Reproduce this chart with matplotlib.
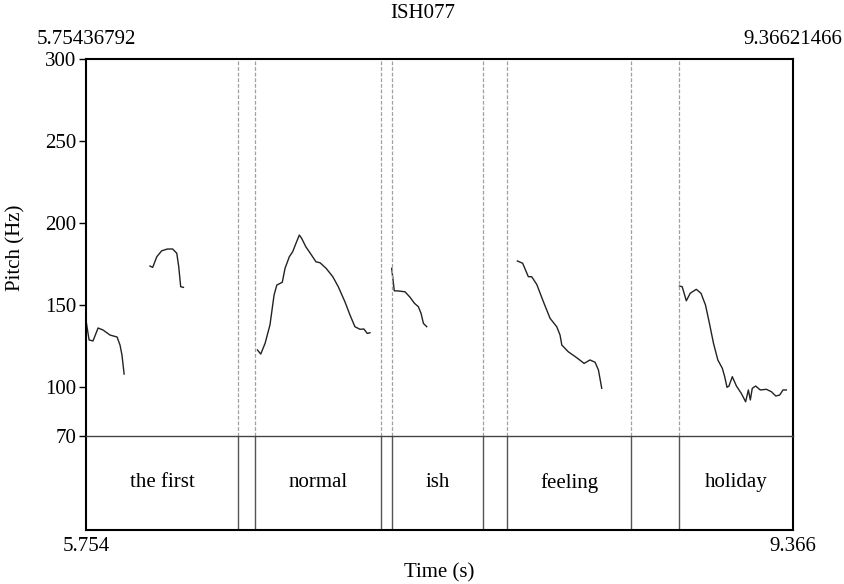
import matplotlib.pyplot as plt

plt.rcParams['font.family'] = ['Liberation Serif', 'DejaVu Serif']

title = "ISH077"
t_start, t_end = 5.75436792, 9.36621466
f_min, f_max = 70, 300
pitch_ticks = [70, 100, 150, 200, 250, 300]

# word tier: interval boundaries and their labels (empty = pause)
boundaries = [6.531, 6.618, 7.261, 7.318, 7.782, 7.905, 8.539, 8.784]
words = ["the first", "", "normal", "", "ish", "", "feeling", "", "holiday"]

# voiced stretches of the pitch track (time in s, F0 in Hz)
seg1_t = [5.754, 5.770, 5.790, 5.816, 5.841, 5.877, 5.913, 5.928, 5.938, 5.949]
seg1_f = [140.8, 128.6, 128.0, 135.9, 134.7, 131.6, 130.4, 125.5, 119.4, 107.8]

seg2_t = [6.081, 6.095, 6.116, 6.141, 6.170, 6.197, 6.218, 6.228, 6.238, 6.252]
seg2_f = [173.7, 172.9, 179.4, 183.0, 184.1, 184.1, 181.5, 173.3, 161.1, 160.7]

seg3_t = [6.630, 6.647, 6.669, 6.694, 6.715, 6.729, 6.757, 6.771, 6.793, 6.810,
          6.827, 6.844, 6.856, 6.877, 6.895, 6.929, 6.950, 6.981, 7.015, 7.043,
          7.077, 7.103, 7.128, 7.154, 7.174, 7.191, 7.205]
seg3_f = [122.5, 120.0, 126.5, 137.7, 156.0, 162.1, 163.8, 172.3, 179.4, 182.4,
          187.6, 192.6, 190.6, 185.5, 182.4, 176.3, 175.7, 172.3, 167.2, 161.1,
          151.9, 143.8, 136.7, 135.1, 135.3, 132.6, 133.0]

seg4_t = [7.316, 7.329, 7.350, 7.384, 7.410, 7.432, 7.452, 7.466, 7.478, 7.495]
seg4_f = [172.3, 158.6, 158.5, 158.0, 154.6, 151.0, 148.9, 144.8, 138.7, 136.7]

seg5_t = [7.958, 7.985, 8.014, 8.031, 8.057, 8.091, 8.125, 8.159, 8.176, 8.185,
          8.218, 8.261, 8.299, 8.329, 8.355, 8.372, 8.389]
seg5_f = [176.8, 175.4, 167.2, 167.2, 162.5, 151.9, 141.8, 136.7, 131.6, 125.5,
          121.4, 117.8, 114.3, 116.4, 115.0, 110.3, 99.1]

seg6_t = [8.786, 8.800, 8.821, 8.841, 8.872, 8.896, 8.919, 8.939, 8.960, 8.982,
          9.005, 9.017, 9.029, 9.039, 9.056, 9.077, 9.102, 9.124, 9.138, 9.148,
          9.158, 9.175, 9.199, 9.230, 9.256, 9.278, 9.298, 9.315, 9.332]
seg6_f = [161.5, 161.1, 152.5, 157.1, 159.5, 157.1, 149.9, 138.8, 126.5, 116.4,
          111.3, 106.2, 99.7, 100.5, 106.2, 100.5, 96.0, 90.9, 98.1, 92.0,
          99.1, 100.5, 98.1, 98.5, 97.0, 94.4, 95.0, 98.1, 98.1]

segments = [(seg1_t, seg1_f), (seg2_t, seg2_f), (seg3_t, seg3_f),
            (seg4_t, seg4_f), (seg5_t, seg5_f), (seg6_t, seg6_f)]

FS = 15

fig = plt.figure(figsize=(8.45, 5.84), dpi=100)
tier = fig.add_axes([0.1018, 0.0925, 0.8367, 0.161])
ax = fig.add_axes([0.1018, 0.2534, 0.8367, 0.6455])
ax.patch.set_alpha(0)

for t, f in segments:
    ax.plot(t, f, color='#222222', lw=1.0)

for b in boundaries:
    ax.axvline(b, color='#a0a0a0', lw=0.9, ls=(0, (3, 1.5)))
    tier.axvline(b, color='#555555', lw=1.0)

ax.set_xlim(t_start, t_end)
ax.set_ylim(f_min, f_max)
ax.set_yticks(pitch_ticks)
ax.tick_params(axis='y', direction='out', length=5, width=1.0, labelsize=FS, pad=2)
ax.set_ylabel("Pitch (Hz)", fontsize=FS, labelpad=14)

# exact bounds shown above the frame
ax.xaxis.tick_top()
ax.set_xticks([t_start, t_end])
ax.set_xticklabels([f"{t_start:.8f}", f"{t_end:.8f}"])
ax.tick_params(axis='x', length=0, labelsize=FS, pad=7)
fig.text(0.5, 1 - 14 / 584, title, ha='center', va='center', fontsize=FS)

for s in ['top', 'left', 'right']:
    ax.spines[s].set_linewidth(1.5)
ax.spines['bottom'].set_linewidth(1.0)
ax.spines['bottom'].set_color('#444444')

# word labels centred in each interval
edges = [t_start] + boundaries + [t_end]
for i, w in enumerate(words):
    if w:
        tier.text((edges[i] + edges[i + 1]) / 2, 0.5, w, ha='center', va='center', fontsize=FS)

tier.set_xlim(t_start, t_end)
tier.set_ylim(0, 1)
tier.set_yticks([])
tier.set_xticks([t_start, t_end])
tier.set_xticklabels([f"{t_start:.3f}", f"{t_end:.3f}"])
tier.tick_params(axis='x', length=0, labelsize=FS, pad=5)
tier.set_xlabel("Time (s)", fontsize=FS, labelpad=5)
tier.spines['top'].set_visible(False)
for s in ['bottom', 'left', 'right']:
    tier.spines[s].set_linewidth(1.5)

fig.savefig("out.png", dpi=100)
